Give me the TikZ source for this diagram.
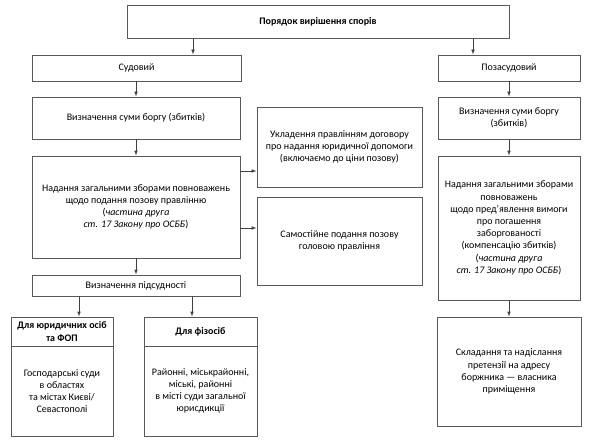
\documentclass[tikz,border=0pt]{standalone}
\usepackage{fontspec}
\setmainfont{Carlito}
\usetikzlibrary{arrows.meta}
\tikzset{
  bx/.style={draw=black!65, line width=0.7pt, inner sep=1pt, align=center, font=\fontsize{10}{12.2}\selectfont},
  arr/.style={draw=black!75, line width=0.7pt, -{Latex[length=5pt,width=3.6pt]}},
}
\begin{document}
\begin{tikzpicture}[x=1pt,y=-1pt]
\useasboundingbox (0,0) rectangle (600,444);
\node[bx, minimum width=382pt, minimum height=33pt, font=\bfseries\fontsize{10}{12.2}\selectfont] (top) at (318,21.5) {Порядок вирішення спорів};
\node[bx, minimum width=209pt, minimum height=26pt] (sud) at (136.5,68) {Судовий};
\node[bx, minimum width=142pt, minimum height=26pt] (poz) at (509,68) {Позасудовий};
\node[bx, minimum width=208pt, minimum height=42pt] (vizL) at (136,118) {Визначення суми боргу (збитків)};
\node[bx, minimum width=142pt, minimum height=42pt] (vizR) at (509,118) {Визначення суми боргу\\(збитків)};
\node[bx, minimum width=208pt, minimum height=102pt] (nadL) at (136,207) {Надання загальними зборами повноважень\\щодо подання позову правлінню\\(\textit{частина друга}\\\textit{ст. 17 Закону про ОСББ})};
\node[bx, minimum width=165pt, minimum height=80pt] (ukl) at (339.5,147) {Укладення правлінням договору\\про надання юридичної допомоги\\(включаємо до ціни позову)};
\node[bx, minimum width=165pt, minimum height=88pt] (sam) at (339.5,241) {Самостійне подання позову\\головою правління};
\node[bx, minimum width=142pt, minimum height=144pt] (nadR) at (509,228) {Надання загальними зборами\\повноважень\\щодо пред’явлення вимоги\\про погашення\\заборгованості\\(компенсацію збитків)\\(\textit{частина друга}\\\textit{ст. 17 Закону про ОСББ})};
\node[bx, minimum width=208pt, minimum height=21pt] (pids) at (136,285.5) {Визначення підсудності};
\node[bx, minimum width=102pt, minimum height=29pt, font=\bfseries\fontsize{10}{12.2}\selectfont] (yurh) at (62,331.5) {Для юридичних осіб\\та ФОП};
\node[bx, minimum width=102pt, minimum height=90pt] (yurb) at (62,391) {Господарські суди\\в областях\\та містах Києві/\\Севастополі};
\node[bx, minimum width=113pt, minimum height=29pt, font=\bfseries\fontsize{10}{12.2}\selectfont] (fizh) at (200.5,331.5) {Для фізосіб};
\node[bx, minimum width=113pt, minimum height=90pt] (fizb) at (200.5,391) {Районні, міськрайонні,\\міські, районні\\в місті суди загальної\\юрисдикції};
\node[bx, minimum width=144pt, minimum height=109pt] (skl) at (509,371.5) {Складання та надіслання\\претензії на адресу\\боржника — власника\\приміщення};
\coordinate (c1) at (193,0);
\coordinate (c2) at (473,0);
\coordinate (c3) at (0,171);
\coordinate (c4) at (0,228);
\coordinate (c5) at (79,0);
\coordinate (c6) at (192,0);
\draw[arr] (top.south -| c1) -- (sud.north -| c1);
\draw[arr] (top.south -| c2) -- (poz.north -| c2);
\draw[arr] (sud.south -| vizL) -- (vizL.north);
\draw[arr] (vizL) ++(0,21) -- (nadL.north);
\draw[arr] (nadL.south) -- (pids.north);
\draw[arr] (nadL.east |- c3) -- (ukl.west |- c3);
\draw[arr] (nadL.east |- c4) -- (sam.west |- c4);
\draw[arr] (pids.south -| c5) -- (yurh.north -| c5);
\draw[arr] (pids.south -| c6) -- (fizh.north -| c6);
\draw[arr] (poz.south) -- (vizR.north);
\draw[arr] (vizR.south) -- (nadR.north);
\draw[arr] (nadR.south) -- (skl.north);
\end{tikzpicture}
\end{document}
